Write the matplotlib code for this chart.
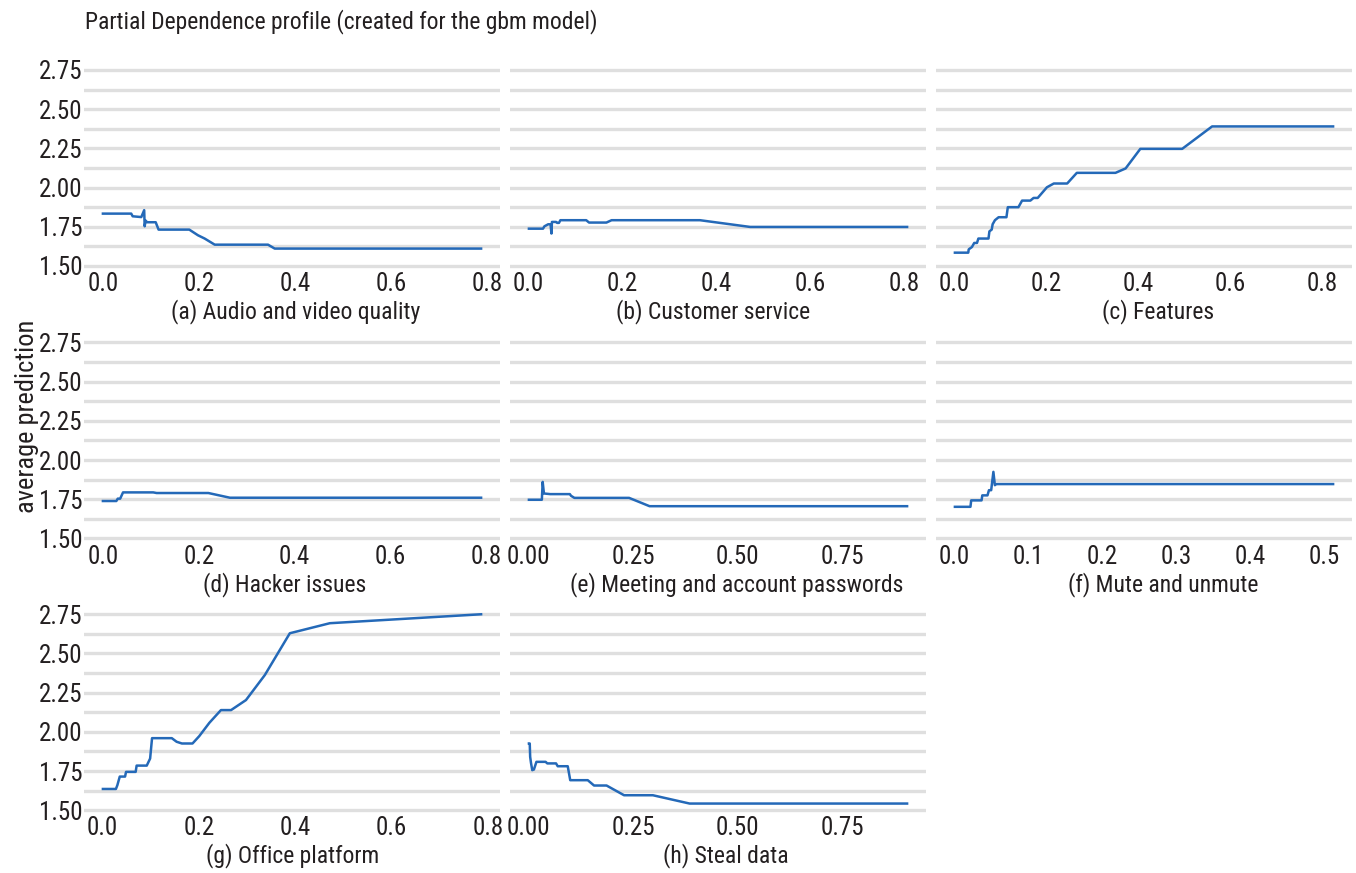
import matplotlib
matplotlib.use("Agg")
import matplotlib.pyplot as plt
from matplotlib.ticker import MultipleLocator, FormatStrFormatter

plt.rcParams['font.family'] = ['Roboto Condensed', 'DejaVu Sans']

# partial dependence curves, one per feature
a_x = [0.0, 0.059, 0.062, 0.080, 0.086, 0.087, 0.089, 0.092, 0.110, 0.116, 0.180, 0.198, 0.212, 0.233, 0.344, 0.358, 0.788]
a_y = [1.834, 1.834, 1.817, 1.812, 1.856, 1.753, 1.790, 1.779, 1.779, 1.732, 1.732, 1.696, 1.675, 1.636, 1.636, 1.611, 1.611]

b_x = [0.002, 0.032, 0.035, 0.043, 0.048, 0.050, 0.051, 0.060, 0.062, 0.066, 0.069, 0.124, 0.130, 0.167, 0.178, 0.366, 0.473, 0.807]
b_y = [1.738, 1.738, 1.753, 1.766, 1.766, 1.707, 1.781, 1.781, 1.775, 1.775, 1.792, 1.792, 1.777, 1.777, 1.792, 1.792, 1.749, 1.749]

c_x = [0.001, 0.030, 0.031, 0.038, 0.043, 0.049, 0.052, 0.074, 0.076, 0.081, 0.083, 0.088, 0.096, 0.113,
       0.116, 0.139, 0.147, 0.165, 0.172, 0.181, 0.201, 0.216, 0.245, 0.266, 0.350, 0.372, 0.404, 0.495, 0.560, 0.823]
c_y = [1.585, 1.585, 1.606, 1.621, 1.647, 1.647, 1.675, 1.675, 1.721, 1.732, 1.766, 1.792, 1.811, 1.811,
       1.875, 1.875, 1.917, 1.917, 1.934, 1.934, 2.002, 2.026, 2.026, 2.094, 2.094, 2.122, 2.247, 2.247, 2.390, 2.390]

d_x = [0.0, 0.028, 0.031, 0.036, 0.042, 0.105, 0.112, 0.220, 0.265, 0.789]
d_y = [1.739, 1.739, 1.754, 1.754, 1.794, 1.794, 1.790, 1.790, 1.760, 1.760]

e_x = [0.0, 0.031, 0.033, 0.036, 0.051, 0.098, 0.101, 0.109, 0.240, 0.289, 0.906]
e_y = [1.747, 1.747, 1.861, 1.787, 1.783, 1.783, 1.772, 1.759, 1.759, 1.706, 1.706]

f_x = [0.001, 0.022, 0.023, 0.037, 0.038, 0.045, 0.047, 0.050, 0.051, 0.053, 0.055, 0.057, 0.512]
f_y = [1.702, 1.702, 1.743, 1.743, 1.775, 1.775, 1.808, 1.808, 1.847, 1.925, 1.840, 1.847, 1.847]

g_x = [0.001, 0.028, 0.031, 0.036, 0.047, 0.049, 0.069, 0.071, 0.092, 0.099, 0.103, 0.144, 0.154, 0.165,
       0.187, 0.201, 0.222, 0.246, 0.267, 0.298, 0.337, 0.389, 0.472, 0.786]
g_y = [1.636, 1.636, 1.660, 1.715, 1.715, 1.745, 1.745, 1.785, 1.785, 1.830, 1.960, 1.960, 1.937, 1.926,
       1.926, 1.973, 2.058, 2.139, 2.139, 2.203, 2.362, 2.629, 2.693, 2.750]

h_x = [0.0, 0.002, 0.003, 0.005, 0.008, 0.012, 0.018, 0.040, 0.044, 0.065, 0.069, 0.093, 0.099, 0.141,
       0.156, 0.186, 0.228, 0.297, 0.385, 0.906]
h_y = [1.926, 1.926, 1.841, 1.802, 1.756, 1.760, 1.809, 1.809, 1.799, 1.799, 1.781, 1.781, 1.692, 1.692,
       1.658, 1.658, 1.596, 1.596, 1.543, 1.543]

curves = [(a_x, a_y), (b_x, b_y), (c_x, c_y), (d_x, d_y), (e_x, e_y), (f_x, f_y), (g_x, g_y), (h_x, h_y)]
captions = ["(a) Audio and video quality", "(b) Customer service", "(c) Features",
            "(d) Hacker issues", "(e) Meeting and account passwords", "(f) Mute and unmute",
            "(g) Office platform", "(h) Steal data"]
x_steps = [0.2, 0.2, 0.2, 0.2, 0.25, 0.1, 0.2, 0.25]
y_ticks = [1.50, 1.75, 2.00, 2.25, 2.50, 2.75]

W, H = 1356, 873
fig = plt.figure(figsize=(W / 100, H / 100), dpi=100)

txt_col = '#231f20'
line_col = '#2469b8'
grid_col = '#dfdfdf'

# panel boxes in pixels: 3 columns, 3 rows
lefts = [84, 510, 936]
tops = [63.7, 336.2, 608.0]
pw, ph = 416, 207
# caption centres (pixels), panels were assembled separately so they drift a bit
cap_x = [296, 713, 1158, 285, 737, 1163, 293, 726]

for i, ((xs, ys), cap, step) in enumerate(zip(curves, captions, x_steps)):
    r, c = divmod(i, 3)
    ax = fig.add_axes([lefts[c] / W, 1 - (tops[r] + ph) / H, pw / W, ph / H])
    ax.plot(xs, ys, color=line_col, lw=1.8)
    ax.margins(x=0.05)
    ax.set_ylim(1.47, 2.79)
    ax.set_yticks(y_ticks)
    ax.yaxis.set_minor_locator(MultipleLocator(0.125))
    ax.xaxis.set_major_locator(MultipleLocator(step))
    ax.grid(axis='y', which='both', color=grid_col, lw=2.4)
    ax.grid(axis='x', visible=False)
    ax.set_axisbelow(True)
    for s in ax.spines.values():
        s.set_visible(False)
    ax.tick_params(which='both', length=0, labelsize=18, colors=txt_col, pad=1)
    ax.xaxis.set_major_formatter(FormatStrFormatter('%.2f' if step == 0.25 else '%.1f'))
    if c == 0:
        ax.yaxis.set_major_formatter(FormatStrFormatter('%.2f'))
    else:
        ax.set_yticklabels([])
    # caption under each panel
    fig.text(cap_x[i] / W, 1 - (tops[r] + ph + 41) / H, cap,
             ha='center', va='center', fontsize=17, color=txt_col)

fig.text(85 / W, 1 - 22 / H, "Partial Dependence profile (created for the gbm model)",
         ha='left', va='center', fontsize=17, color=txt_col)
fig.text(27 / W, 1 - 416 / H, "average prediction", rotation=90,
         ha='center', va='center', fontsize=19, color=txt_col)

fig.savefig("out.png", dpi=100, facecolor='white')
